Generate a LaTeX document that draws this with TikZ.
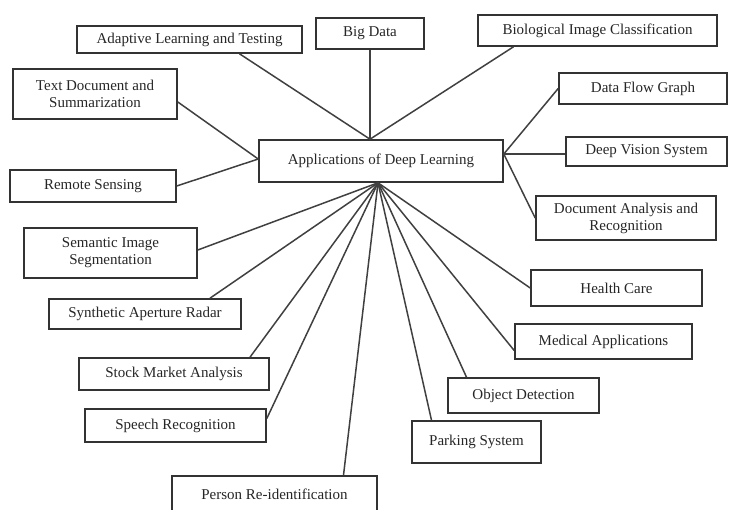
\documentclass[tikz,border=0pt]{standalone}
\usepackage{fontspec}
\setmainfont{Liberation Serif}
\begin{document}
\begin{tikzpicture}[x=1pt, y=-1pt,
    font=\fontsize{15}{17}\selectfont,
    box/.style={draw=black!80, line width=1.6pt, align=center, inner sep=0pt, text=black!85},
    link/.style={draw=black!75, line width=1.5pt}]
  % page frame (the bottom box runs off the page)
  \clip (0,0) rectangle (729,510);

  % central node
  \node[box, minimum width=244pt, minimum height=42pt] (hub) at (381,161) {Applications of Deep Learning};
  \coordinate (tapex) at ([xshift=-11pt]hub.north);
  \coordinate (lapex) at ([yshift=2pt]hub.west);
  \coordinate (rapex) at ([yshift=7pt]hub.east);
  \coordinate (bapex) at ([xshift=-3pt]hub.south);

  % top row
  \node[box, minimum width=225pt, minimum height=27pt] (adapt) at (189.5,39.5) {Adaptive Learning and Testing};
  \node[box, minimum width=108pt, minimum height=31pt] (bigdata) at (370,33.5) {Big Data};
  \node[box, minimum width=239pt, minimum height=31pt] (bio) at (597.5,30.5) {Biological Image Classification};

  % left side
  \node[box, minimum width=164pt, minimum height=50pt] (textdoc) at (95,94) {Text Document and\\Summarization};
  \node[box, minimum width=166pt, minimum height=32pt] (remote) at (93,186) {Remote Sensing};

  % right side
  \node[box, minimum width=168pt, minimum height=31pt] (dataflow) at (643,88.5) {Data Flow Graph};
  \node[box, minimum width=161pt, minimum height=29pt] (vision) at (646.5,151.5) {Deep Vision System};
  \node[box, minimum width=180pt, minimum height=44pt] (docana) at (626,218) {Document Analysis and\\Recognition};

  % lower fan
  \node[box, minimum width=173pt, minimum height=50pt] (semantic) at (110.5,253) {Semantic Image\\Segmentation};
  \node[box, minimum width=192pt, minimum height=30pt] (sar) at (145,314) {Synthetic Aperture Radar};
  \node[box, minimum width=190pt, minimum height=32pt] (stock) at (174,374) {Stock Market Analysis};
  \node[box, minimum width=181pt, minimum height=33pt] (speech) at (175.5,425.5) {Speech Recognition};
  \node[box, minimum width=205pt, minimum height=36pt] (person) at (274.5,494) {Person Re-identification};
  \node[box, minimum width=129pt, minimum height=42pt] (parking) at (476.5,442) {Parking System};
  \node[box, minimum width=151pt, minimum height=35pt] (object) at (523.5,395.5) {Object Detection};
  \node[box, minimum width=177pt, minimum height=35pt] (medical) at (603.5,341.5) {Medical Applications};
  \node[box, minimum width=171pt, minimum height=36pt] (health) at (616.5,288) {Health Care};

  % connectors to the top
  \draw[link] ([xshift=50pt]adapt.south) -- (tapex);
  \draw[link] (bigdata.south) -- (tapex);
  \draw[link] ([xshift=-84pt]bio.south) -- (tapex);

  % connectors to the left and right
  \draw[link] ([yshift=-8pt]textdoc.east) -- (lapex);
  \draw[link] (remote.east) -- (lapex);
  \draw[link] (rapex) -- (dataflow.west);
  \draw[link] (rapex) -- (rapex -| vision.west);
  \draw[link] (rapex) -- (docana.west);

  % connectors to the bottom
  \draw[link] (bapex) -- ([yshift=3pt]semantic.east);
  \draw[link] (bapex) -- ([xshift=65pt]sar.north);
  \draw[link] (bapex) -- ([xshift=76pt]stock.north);
  \draw[link] (bapex) -- ([yshift=7pt]speech.east);
  \draw[link] (bapex) -- ([xshift=69pt]person.north);
  \draw[link] (bapex) -- ([xshift=-45pt]parking.north);
  \draw[link] (bapex) -- ([xshift=-57pt]object.north);
  \draw[link] (bapex) -- ([yshift=-9pt]medical.west);
  \draw[link] (bapex) -- (health.west);
\end{tikzpicture}
\end{document}
